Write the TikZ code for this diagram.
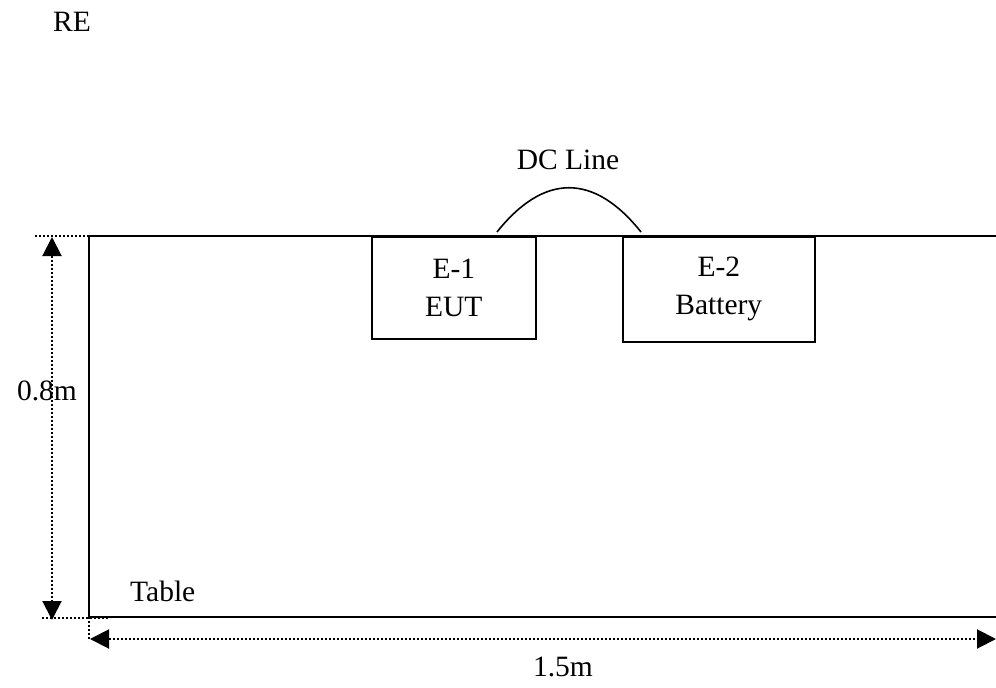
\documentclass[tikz,border=0pt]{standalone}
\usepackage{fontspec}
\setmainfont{Liberation Serif}
\usetikzlibrary{arrows.meta}
\tikzset{
  lbl/.style={font=\fontsize{29.5}{38}\selectfont, inner sep=0pt},
  unitbox/.style={draw, line width=1.6pt, lbl, align=center, anchor=north west},
  dimline/.style={dotted, line width=2pt},
  dimarrow/.style={dimline, {Triangle[length=19pt,width=19pt]}-{Triangle[length=19pt,width=19pt]}}
}
\begin{document}
\begin{tikzpicture}[x=1pt,y=-1pt]
    \useasboundingbox (0,0) rectangle (996,688);
    % table
    \coordinate (tl) at (89,236);
    \coordinate (bl) at (89,617);
    \draw[line width=1.6pt] (996,236) -- (tl) -- (bl) -- (996,617);
    \node[lbl, anchor=west] (tab) at (130,591) {Table};
    \node[lbl] (re) at (72,22) {RE};
    % units on the table
    \node[unitbox, minimum width=164pt, minimum height=102pt] (eut) at (371,236) {E-1\\EUT};
    \node[unitbox, minimum width=192pt, minimum height=105pt] (bat) at (622,236) {E-2\\Battery};
    % dc line
    \coordinate (dca) at (497,232);
    \coordinate (dcb) at (641,232);
    \draw[line width=1.6pt] (dca) .. controls (544,173) and (594,173) .. (dcb);
    \node[lbl] (dc) at (568,160) {DC Line};
    % height
    \coordinate (ht) at (52,237);
    \coordinate (hb) at (52,620);
    \draw[dimline] (35,236) -- (tl);
    \draw[dimline] (42,618) -- (110,618);
    \draw[dimarrow] (ht) -- (hb);
    \node[lbl] (h) at (47,391) {0.8m};
    % width
    \coordinate (wl) at (90,639);
    \coordinate (wr) at (996,639);
    \draw[dimline] (bl) -- (89,639);
    \draw[dimarrow] (wl) -- (wr);
    \node[lbl] (w) at (563,667) {1.5m};
\end{tikzpicture}
\end{document}
